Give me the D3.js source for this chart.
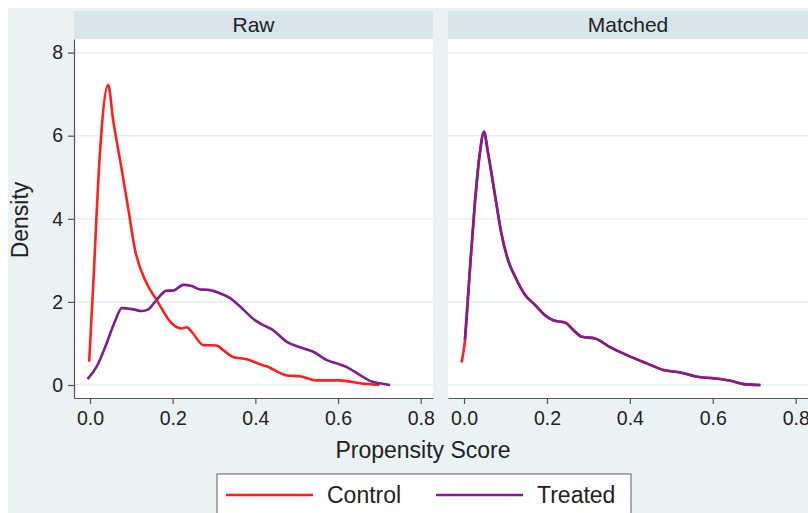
<!DOCTYPE html>
<html>
<head>
<meta charset="utf-8">
<script src="https://cdn.jsdelivr.net/npm/d3@7"></script>
<style>
  body { margin: 0; background: #fff; }
  text { font-family: "Liberation Sans", Arial, sans-serif; fill: #222; }
</style>
</head>
<body>
<div id="chart"></div>
<script>
// Raw panel: control (red) and treated (purple) densities
var rawControlX = [-0.002, 0.008, 0.024, 0.044, 0.056, 0.077, 0.093, 0.109, 0.137, 0.161, 0.198, 0.222, 0.234, 0.246, 0.274, 0.306, 0.322, 0.347, 0.379, 0.411, 0.427, 0.476, 0.508, 0.548, 0.605, 0.653, 0.700];
var rawControlY = [0.56, 2.45, 5.58, 7.22, 6.38, 5.17, 4.21, 3.25, 2.45, 2.05, 1.48, 1.36, 1.39, 1.28, 0.96, 0.95, 0.84, 0.67, 0.62, 0.50, 0.45, 0.23, 0.21, 0.11, 0.11, 0.04, 0.00];

var rawTreatedX = [-0.006, 0.016, 0.040, 0.060, 0.077, 0.105, 0.125, 0.141, 0.161, 0.186, 0.200, 0.226, 0.246, 0.266, 0.286, 0.314, 0.339, 0.363, 0.399, 0.419, 0.440, 0.476, 0.508, 0.540, 0.573, 0.597, 0.621, 0.653, 0.677, 0.700, 0.726];
var rawTreatedY = [0.14, 0.44, 1.00, 1.52, 1.85, 1.82, 1.78, 1.82, 2.05, 2.27, 2.27, 2.41, 2.38, 2.30, 2.29, 2.21, 2.09, 1.89, 1.56, 1.44, 1.34, 1.04, 0.91, 0.80, 0.60, 0.52, 0.43, 0.24, 0.10, 0.04, 0.00];

// Matched panel: the two curves almost coincide
var matchedControlX = [-0.006, 0.002, 0.014, 0.026, 0.038, 0.048, 0.058, 0.074, 0.090, 0.106, 0.123, 0.147, 0.171, 0.195, 0.215, 0.244, 0.264, 0.284, 0.316, 0.352, 0.393, 0.441, 0.481, 0.522, 0.562, 0.602, 0.643, 0.675, 0.715];
var matchedControlY = [0.54, 1.05, 2.74, 4.35, 5.56, 6.08, 5.58, 4.61, 3.65, 3.01, 2.61, 2.17, 1.93, 1.68, 1.56, 1.50, 1.32, 1.16, 1.12, 0.91, 0.72, 0.52, 0.36, 0.30, 0.20, 0.16, 0.10, 0.02, 0.00];

var matchedTreatedX = [0.002, 0.014, 0.026, 0.038, 0.048, 0.058, 0.074, 0.090, 0.106, 0.123, 0.147, 0.171, 0.195, 0.215, 0.244, 0.264, 0.284, 0.316, 0.352, 0.393, 0.441, 0.481, 0.522, 0.562, 0.602, 0.643, 0.675, 0.715];
var matchedTreatedY = [1.08, 2.77, 4.37, 5.58, 6.10, 5.58, 4.61, 3.65, 3.01, 2.61, 2.17, 1.93, 1.68, 1.56, 1.50, 1.32, 1.16, 1.12, 0.91, 0.72, 0.52, 0.36, 0.30, 0.20, 0.16, 0.10, 0.02, 0.00];

var panelNames = ["Raw", "Matched"];
var xTicks = [0, 0.2, 0.4, 0.6, 0.8];
var yTicks = [0, 2, 4, 6, 8];
var seriesNames = ["Control", "Treated"];
var seriesColors = ["#ff1f1f", "#7d2089"];

var width = 808,
  height = 513;

var svg = d3.select("#chart")
  .append("svg")
  .attr("width", width)
  .attr("height", height);

// graph region
svg.append("rect")
  .attr("x", 8).attr("y", 8)
  .attr("width", width - 8).attr("height", height - 8)
  .attr("fill", "#eaf2f3");

var panels = [
  { name: panelNames[0], x0: 74, x1: 433,
    series: [d3.zip(rawControlX, rawControlY), d3.zip(rawTreatedX, rawTreatedY)] },
  { name: panelNames[1], x0: 448, x1: 808,
    series: [d3.zip(matchedControlX, matchedControlY), d3.zip(matchedTreatedX, matchedTreatedY)] }
];

var plotTop = 39, plotBottom = 398;

var y = d3.scaleLinear()
  .domain([-0.313, 8.327])
  .range([plotBottom, plotTop]);

panels.forEach(function (p, i) {
  var x = d3.scaleLinear()
    .domain([-0.0387, 0.8297])
    .range([p.x0, p.x1]);

  var g = svg.append("g");

  // header strip
  g.append("rect")
    .attr("x", p.x0).attr("y", 11)
    .attr("width", p.x1 - p.x0).attr("height", plotTop - 11)
    .attr("fill", "#d8e5eb");
  g.append("text")
    .attr("x", (p.x0 + p.x1) / 2).attr("y", 32)
    .attr("text-anchor", "middle")
    .style("font-size", "21px")
    .text(p.name);

  // plot region
  g.append("rect")
    .attr("x", p.x0).attr("y", plotTop)
    .attr("width", p.x1 - p.x0).attr("height", plotBottom - plotTop)
    .attr("fill", "#fff");

  // grid
  g.selectAll(".grid")
    .data(yTicks)
    .enter()
    .append("line")
    .attr("x1", p.x0).attr("x2", p.x1)
    .attr("y1", function (d) { return y(d); })
    .attr("y2", function (d) { return y(d); })
    .attr("stroke", "#e6eff3")
    .attr("stroke-width", 1.6);

  // x axis
  var xa = g.append("g")
    .attr("transform", "translate(0," + plotBottom + ")")
    .call(d3.axisBottom(x).tickValues(xTicks).tickFormat(d3.format(".1f")).tickSize(6).tickSizeOuter(0));
  xa.select(".domain").attr("stroke", "#555").attr("stroke-width", 1.2);
  xa.selectAll(".tick line").attr("stroke", "#555").attr("stroke-width", 1.2);
  xa.selectAll(".tick text")
    .attr("y", 13)
    .style("font-size", "19.5px")
    .style("font-family", "Liberation Sans, Arial, sans-serif")
    .attr("fill", "#222");

  // y axis on first panel only
  if (i === 0) {
    var ya = g.append("g")
      .attr("transform", "translate(" + p.x0 + ",0)")
      .call(d3.axisLeft(y).tickValues(yTicks).tickSize(6).tickSizeOuter(0));
    ya.select(".domain").attr("stroke", "#555").attr("stroke-width", 1.2);
    ya.selectAll(".tick line").attr("stroke", "#555").attr("stroke-width", 1.2);
    ya.selectAll(".tick text")
      .attr("x", -11)
      .style("font-size", "19.5px")
      .style("font-family", "Liberation Sans, Arial, sans-serif")
      .attr("fill", "#222");
  }

  var line = d3.line()
    .x(function (d) { return x(d[0]); })
    .y(function (d) { return y(d[1]); })
    .curve(d3.curveMonotoneX);

  p.series.forEach(function (s, k) {
    g.append("path")
      .datum(s)
      .attr("d", line)
      .attr("fill", "none")
      .attr("stroke", seriesColors[k])
      .attr("stroke-width", 2.6)
      .attr("stroke-linejoin", "round");
  });
});

// axis titles
svg.append("text")
  .attr("x", 423).attr("y", 458)
  .attr("text-anchor", "middle")
  .style("font-size", "23px")
  .text("Propensity Score");

svg.append("text")
  .attr("transform", "translate(28,220) rotate(-90)")
  .attr("text-anchor", "middle")
  .style("font-size", "23px")
  .text("Density");

// legend
var legend = svg.append("g");
legend.append("rect")
  .attr("x", 217).attr("y", 474)
  .attr("width", 414).attr("height", 60)
  .attr("fill", "#fff")
  .attr("stroke", "#777")
  .attr("stroke-width", 1.2);

var legendX = [226, 436];
seriesNames.forEach(function (n, k) {
  legend.append("line")
    .attr("x1", legendX[k]).attr("x2", legendX[k] + 87)
    .attr("y1", 495).attr("y2", 495)
    .attr("stroke", seriesColors[k])
    .attr("stroke-width", 2.6);
  legend.append("text")
    .attr("x", legendX[k] + 101).attr("y", 503)
    .style("font-size", "23px")
    .text(n);
});
</script>
</body>
</html>
